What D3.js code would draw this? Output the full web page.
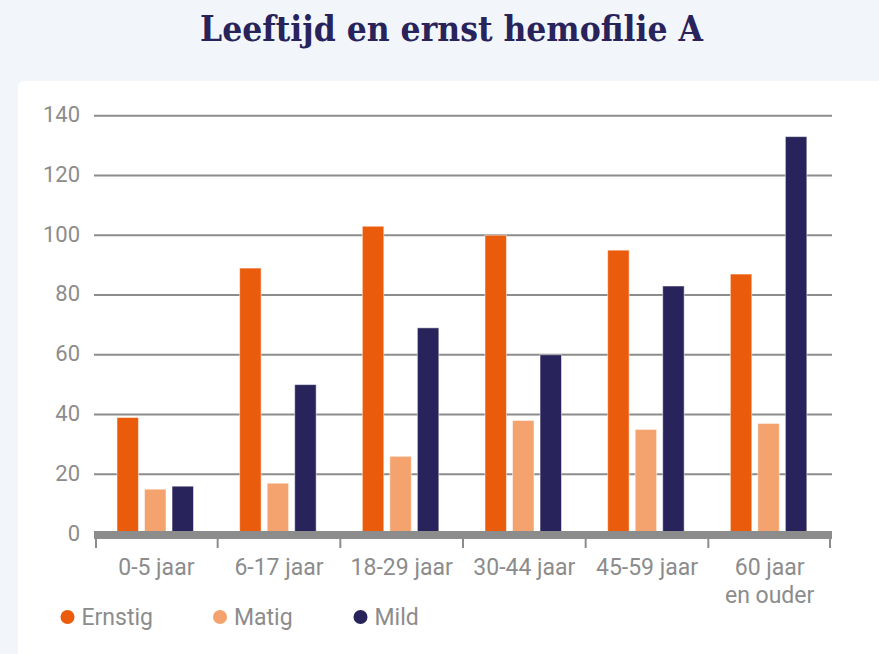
<!DOCTYPE html>
<html>
<head>
<meta charset="utf-8">
<script src="https://cdn.jsdelivr.net/npm/d3@7"></script>
<style>
  body { margin: 0; background: #f2f6fa; }
  svg { display: block; }
</style>
</head>
<body>
<svg id="chart" width="879" height="654"></svg>
<script>
// DATA
// ========================================================================
var categories = ["0-5 jaar", "6-17 jaar", "18-29 jaar", "30-44 jaar", "45-59 jaar", "60 jaar\nen ouder"];
var series = ["Ernstig", "Matig", "Mild"];
var ernstig = [39, 89, 103, 100, 95, 87];
var matig = [15, 17, 26, 38, 35, 37];
var mild = [16, 50, 69, 60, 83, 133];
var yTicks = [0, 20, 40, 60, 80, 100, 120, 140];
var colors = ["#ea5b0c", "#f4a26e", "#28235a"];
// ========================================================================

var values = [ernstig, matig, mild];
var svg = d3.select("#chart");

// background + card
svg.append("rect").attr("width", 879).attr("height", 654).style("fill", "#f2f6fa");
svg.append("rect")
    .attr("x", 18).attr("y", 81)
    .attr("width", 900).attr("height", 620)
    .attr("rx", 6)
    .style("fill", "#ffffff");

// title
svg.append("text")
    .attr("x", 451.5).attr("y", 41)
    .attr("text-anchor", "middle")
    .attr("textLength", 503)
    .attr("lengthAdjust", "spacingAndGlyphs")
    .style("font-family", "'DejaVu Serif', serif")
    .style("font-weight", "bold")
    .style("font-size", "36px")
    .style("fill", "#28235a")
    .text("Leeftijd en ernst hemofilie A");

var x = d3.scaleBand().domain(d3.range(categories.length)).range([95, 831]);
var xInner = d3.scaleBand().domain(d3.range(series.length)).range([22, 98.5]).paddingInner(0.22);
var y = d3.scaleLinear().domain([0, 140]).range([534, 115.7]);

var grey = "#8c8c8c";
var labelColor = "#8c8c8c";
var font = "Roboto, sans-serif";

// gridlines
svg.append("g").selectAll("line")
    .data(yTicks.filter(function (d) { return d > 0; }))
    .enter().append("line")
      .attr("x1", 94).attr("x2", 832)
      .attr("y1", function (d) { return y(d); })
      .attr("y2", function (d) { return y(d); })
      .style("stroke", grey)
      .style("stroke-width", 2);

// y labels
svg.append("g").selectAll("text")
    .data(yTicks).enter().append("text")
      .attr("x", 80)
      .attr("y", function (d) { return y(d) + 6.5; })
      .attr("text-anchor", "end")
      .style("font-family", font)
      .style("font-size", "22px")
      .style("fill", labelColor)
      .text(function (d) { return d; });

// bars
var groups = svg.append("g").selectAll("g")
    .data(categories).enter().append("g")
      .attr("transform", function (d, i) { return "translate(" + x(i) + ",0)"; });

groups.selectAll("rect")
    .data(function (d, i) { return values.map(function (v) { return v[i]; }); })
    .enter().append("rect")
      .attr("x", function (d, j) { return xInner(j); })
      .attr("width", xInner.bandwidth())
      .attr("y", function (d) { return y(d); })
      .attr("height", function (d) { return y(0) - y(d); })
      .style("fill", function (d, j) { return colors[j]; })
      .style("stroke", "#ffffff")
      .style("stroke-opacity", 0.5)
      .style("stroke-width", 1);

// x axis bar and ticks
svg.append("line")
    .attr("x1", 94).attr("x2", 832)
    .attr("y1", 535).attr("y2", 535)
    .style("stroke", grey)
    .style("stroke-width", 8);

var tickPos = d3.range(categories.length + 1).map(function (i) {
  return i < categories.length ? x(i) : x(i - 1) + x.bandwidth();
});
svg.append("g").selectAll("line")
    .data(tickPos).enter().append("line")
      .attr("x1", function (d, i) { return i === 0 ? d + 1 : (i === tickPos.length - 1 ? d - 1 : d); })
      .attr("x2", function (d, i) { return i === 0 ? d + 1 : (i === tickPos.length - 1 ? d - 1 : d); })
      .attr("y1", 538).attr("y2", 548)
      .style("stroke", grey)
      .style("stroke-width", 2);

// category labels
var catLabels = svg.append("g").selectAll("text")
    .data(categories).enter().append("text")
      .attr("x", function (d, i) { return x(i) + x.bandwidth() / 2; })
      .attr("y", 575)
      .attr("text-anchor", "middle")
      .style("font-family", font)
      .style("font-size", "23px")
      .style("fill", labelColor);

catLabels.selectAll("tspan")
    .data(function (d) { return d.split("\n"); })
    .enter().append("tspan")
      .attr("x", function () { return d3.select(this.parentNode).attr("x"); })
      .attr("dy", function (d, i) { return i === 0 ? 0 : 28; })
      .text(function (d) { return d; });

// legend
var legendX = [67.5, 220, 360.5];
var legend = svg.append("g").selectAll("g")
    .data(series).enter().append("g")
      .attr("transform", function (d, i) { return "translate(" + legendX[i] + ",617)"; });

legend.append("circle")
    .attr("r", 7)
    .style("fill", function (d, i) { return colors[i]; });

legend.append("text")
    .attr("x", 14).attr("y", 8)
    .style("font-family", font)
    .style("font-size", "23px")
    .style("fill", labelColor)
    .text(function (d) { return d; });
</script>
</body>
</html>
